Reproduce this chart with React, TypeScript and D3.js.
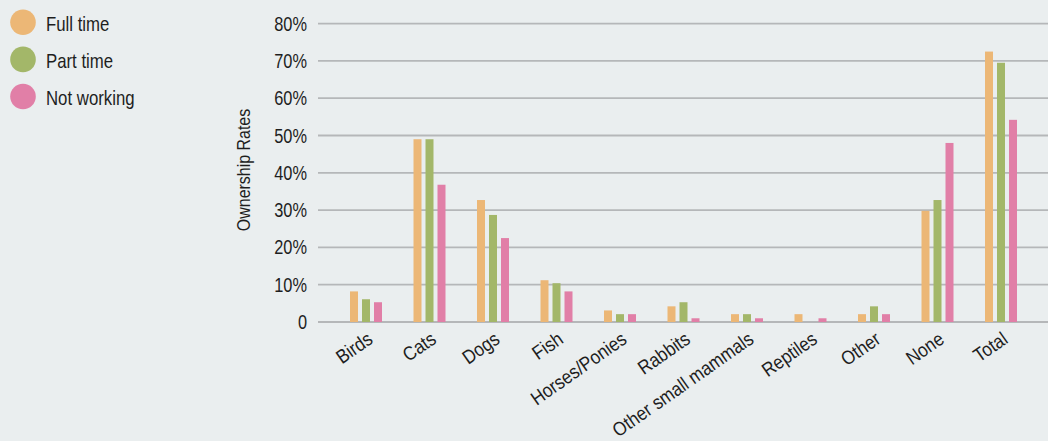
import React from "react";
import * as d3 from "d3";

const categories = [
  "Birds",
  "Cats",
  "Dogs",
  "Fish",
  "Horses/Ponies",
  "Rabbits",
  "Other small mammals",
  "Reptiles",
  "Other",
  "None",
  "Total",
];

const seriesNames = ["Full time", "Part time", "Not working"];
const seriesColors = ["#ECB776", "#A3B769", "#E17FA7"];

// Ownership rate (%) per category, one array per working status
const fullTime = [8.2, 49, 32.7, 11.2, 3.1, 4.2, 2.1, 2.1, 2.1, 29.8, 72.5];
const partTime = [6.1, 49, 28.7, 10.4, 2.1, 5.3, 2.1, 0, 4.2, 32.7, 69.5];
const notWorking = [5.3, 36.8, 22.5, 8.2, 2.1, 1.0, 1.0, 1.0, 2.1, 48.0, 54.2];

const yTicks = [0, 10, 20, 30, 40, 50, 60, 70, 80];

const W = 1048;
const H = 441;
const FONT = "'Liberation Sans', Arial, Helvetica, sans-serif";
// horizontal squeeze giving the condensed look of the typeface
const NARROW = 0.84;
const INK = "#1E1E1E";

export default function App() {
  const series = [fullTime, partTime, notWorking];

  const x0 = d3.scaleBand<string>().domain(categories).range([334.25, 1032.75]).padding(0);
  const x1 = d3
    .scaleBand<string>()
    .domain(seriesNames)
    .range([-18, 18])
    .paddingInner(1 / 3)
    .paddingOuter(1 / 6);
  const y = d3.scaleLinear().domain([0, 80]).range([322, 23.6]);

  const gridX0 = 318;
  const gridX1 = 1048;

  return (
    <svg
      width={W}
      height={H}
      style={{ position: "absolute", left: 0, top: 0, background: "#EAEEEF" }}
      fontFamily={FONT}
    >
      <rect x={0} y={0} width={W} height={H} fill="#EAEEEF" />

      {/* legend */}
      {seriesNames.map((name, i) => {
        const cy = 22.3 + i * 37.1;
        return (
          <g key={name}>
            <circle cx={23} cy={cy} r={12.8} fill={seriesColors[i]} />
            <text
              transform={`translate(46,${cy + 8.5}) scale(${NARROW},1)`}
              fontSize={20}
              fill={INK}
            >
              {name}
            </text>
          </g>
        );
      })}

      {/* gridlines and y tick labels */}
      {yTicks.map((t) => (
        <g key={t}>
          <line x1={gridX0} x2={gridX1} y1={y(t)} y2={y(t)} stroke="#B5B7B9" strokeWidth={1.8} />
          <text
            transform={`translate(307,${y(t)}) scale(${NARROW},1)`}
            dy="0.36em"
            textAnchor="end"
            fontSize={19.5}
            fill={INK}
          >
            {t === 0 ? "0" : `${t}%`}
          </text>
        </g>
      ))}

      {/* y axis title */}
      <text
        transform={`translate(250,170) rotate(-90) scale(${NARROW},1)`}
        textAnchor="middle"
        fontSize={19}
        fill={INK}
      >
        Ownership Rates
      </text>

      {/* bars */}
      {categories.map((c, ci) => {
        const cx = (x0(c) as number) + x0.bandwidth() / 2;
        return (
          <g key={c}>
            {series.map((vals, si) => {
              const v = vals[ci];
              if (v <= 0) return null;
              return (
                <rect
                  key={si}
                  x={cx + (x1(seriesNames[si]) as number)}
                  width={x1.bandwidth()}
                  y={y(v)}
                  height={y(0) - y(v)}
                  fill={seriesColors[si]}
                />
              );
            })}
          </g>
        );
      })}

      {/* category labels */}
      {categories.map((c) => {
        const cx = (x0(c) as number) + x0.bandwidth() / 2;
        return (
          <text
            key={c}
            transform={`translate(${cx + 8},342) rotate(-35) scale(0.88,1)`}
            textAnchor="end"
            fontSize={19.5}
            fill={INK}
          >
            {c}
          </text>
        );
      })}
    </svg>
  );
}
